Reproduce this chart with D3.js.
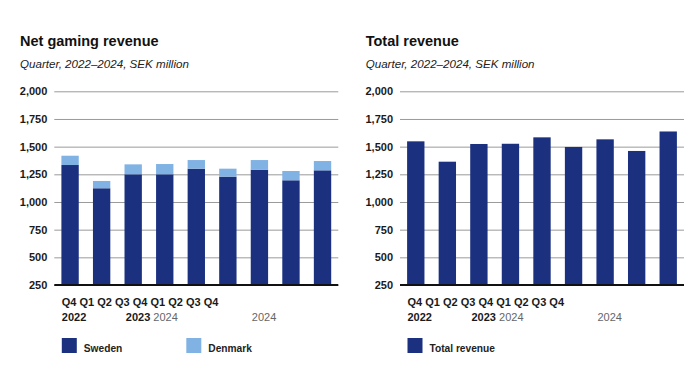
<!DOCTYPE html>
<html><head><meta charset="utf-8">
<script src="https://cdn.jsdelivr.net/npm/d3@7/dist/d3.min.js"></script>
<style>
body{margin:0;background:#fff;}
svg{display:block;font-family:"Liberation Sans",Arial,sans-serif;}
</style></head>
<body><svg id="c" width="700" height="386"></svg>
<script>
const quarters = ["Q4 2022","Q1 2023","Q2 2023","Q3 2023","Q4 2023","Q1 2024","Q2 2024","Q3 2024","Q4 2024"];
const sweden  = [1334, 1124, 1250, 1250, 1301, 1229, 1292, 1196, 1286];
const denmark = [84, 66, 90, 93, 78, 72, 87, 84, 84];
const totalRevenue = [1548, 1364, 1524, 1526, 1584, 1497, 1566, 1461, 1637];
const yTicks = [250, 500, 750, 1000, 1250, 1500, 1750, 2000];
const xLabelLine1 = "Q4 Q1 Q2 Q3 Q4 Q1 Q2 Q3 Q4";
const yearLabels = ["2022", "2023", "2024", "2024"];

const C_SWE = "#1b3180", C_DEN = "#80b3e4";
const svg = d3.select("#c");

function panel(ox, title, stacks, colors, legend) {
  const left = ox + 34.3, right = ox + 318.3, top = 91.3, bottom = 285;
  const y = d3.scaleLinear().domain([250, 2000]).range([bottom, top]);
  const x = d3.scaleBand().domain(quarters).range([left, right]).padding(0.45).paddingOuter(0.225);
  const g = svg.append("g");
  g.append("text").attr("x", ox).attr("y", 46).attr("font-size", 14.5).attr("font-weight", "bold").attr("fill", "#111").text(title);
  g.append("text").attr("x", ox).attr("y", 68).attr("font-size", 11.6).attr("font-style", "italic").attr("fill", "#222").text("Quarter, 2022\u20132024, SEK million");
  const ax = g.append("g").attr("transform", `translate(${left},0)`)
    .call(d3.axisLeft(y).tickValues(yTicks).tickFormat(d3.format(",")).tickSize(-(right - left)).tickPadding(7));
  ax.select(".domain").remove();
  ax.selectAll(".tick line").attr("stroke", "#9a9a9a").attr("stroke-width", 1);
  ax.selectAll(".tick text").attr("font-size", 11).attr("font-weight", "bold").attr("fill", "#1a1a1a")
    .attr("font-family", "Liberation Sans, Arial, sans-serif");
  // stacked bars
  const data = quarters.map((q, i) => { const o = {q}; stacks.forEach((s, k) => o["s" + k] = s[i]); return o; });
  const keys = stacks.map((s, k) => "s" + k);
  const series = d3.stack().keys(keys)(data);
  series.forEach((ser, k) => {
    g.selectAll(null).data(ser).enter().append("rect")
      .attr("x", d => x(d.data.q)).attr("width", x.bandwidth())
      .attr("y", d => y(Math.max(250, d[1])))
      .attr("height", d => y(Math.max(250, d[0])) - y(Math.max(250, d[1])))
      .attr("fill", colors[k]);
  });
  g.append("line").attr("x1", left).attr("x2", right).attr("y1", y(250)).attr("y2", y(250)).attr("stroke", "#111").attr("stroke-width", 2);
  // x labels
  const lx = left + 7.5;
  g.append("text").attr("x", lx).attr("y", 306).attr("font-size", 11).attr("font-weight", "bold").attr("fill", "#1a1a1a").text(xLabelLine1);
  const yr = g.append("g").attr("font-size", 11).attr("font-weight", "bold");
  yr.append("text").attr("x", lx).attr("y", 321).attr("fill", "#1a1a1a").text(yearLabels[0]);
  const t2 = yr.append("text").attr("x", lx + 64).attr("y", 321).attr("fill", "#1a1a1a").text(yearLabels[1]);
  t2.append("tspan").attr("fill", "#666").attr("font-weight", "normal").text(" " + yearLabels[2]);
  yr.append("text").attr("x", lx + 190).attr("y", 321).attr("fill", "#666").attr("font-weight", "normal").text(yearLabels[3]);
  // legend
  legend.forEach((l, i) => {
    const lgx = lx + i * 124.5;
    g.append("rect").attr("x", lgx).attr("y", 338).attr("width", 15).attr("height", 15).attr("fill", l.color);
    g.append("text").attr("x", lgx + 22).attr("y", 352).attr("font-size", 10.2).attr("font-weight", "bold").attr("fill", "#222").text(l.name);
  });
}

panel(20, "Net gaming revenue", [sweden, denmark], [C_SWE, C_DEN],
  [{name: "Sweden", color: C_SWE}, {name: "Denmark", color: C_DEN}]);
panel(365.7, "Total revenue", [totalRevenue], [C_SWE],
  [{name: "Total revenue", color: C_SWE}]);
</script></body></html>
